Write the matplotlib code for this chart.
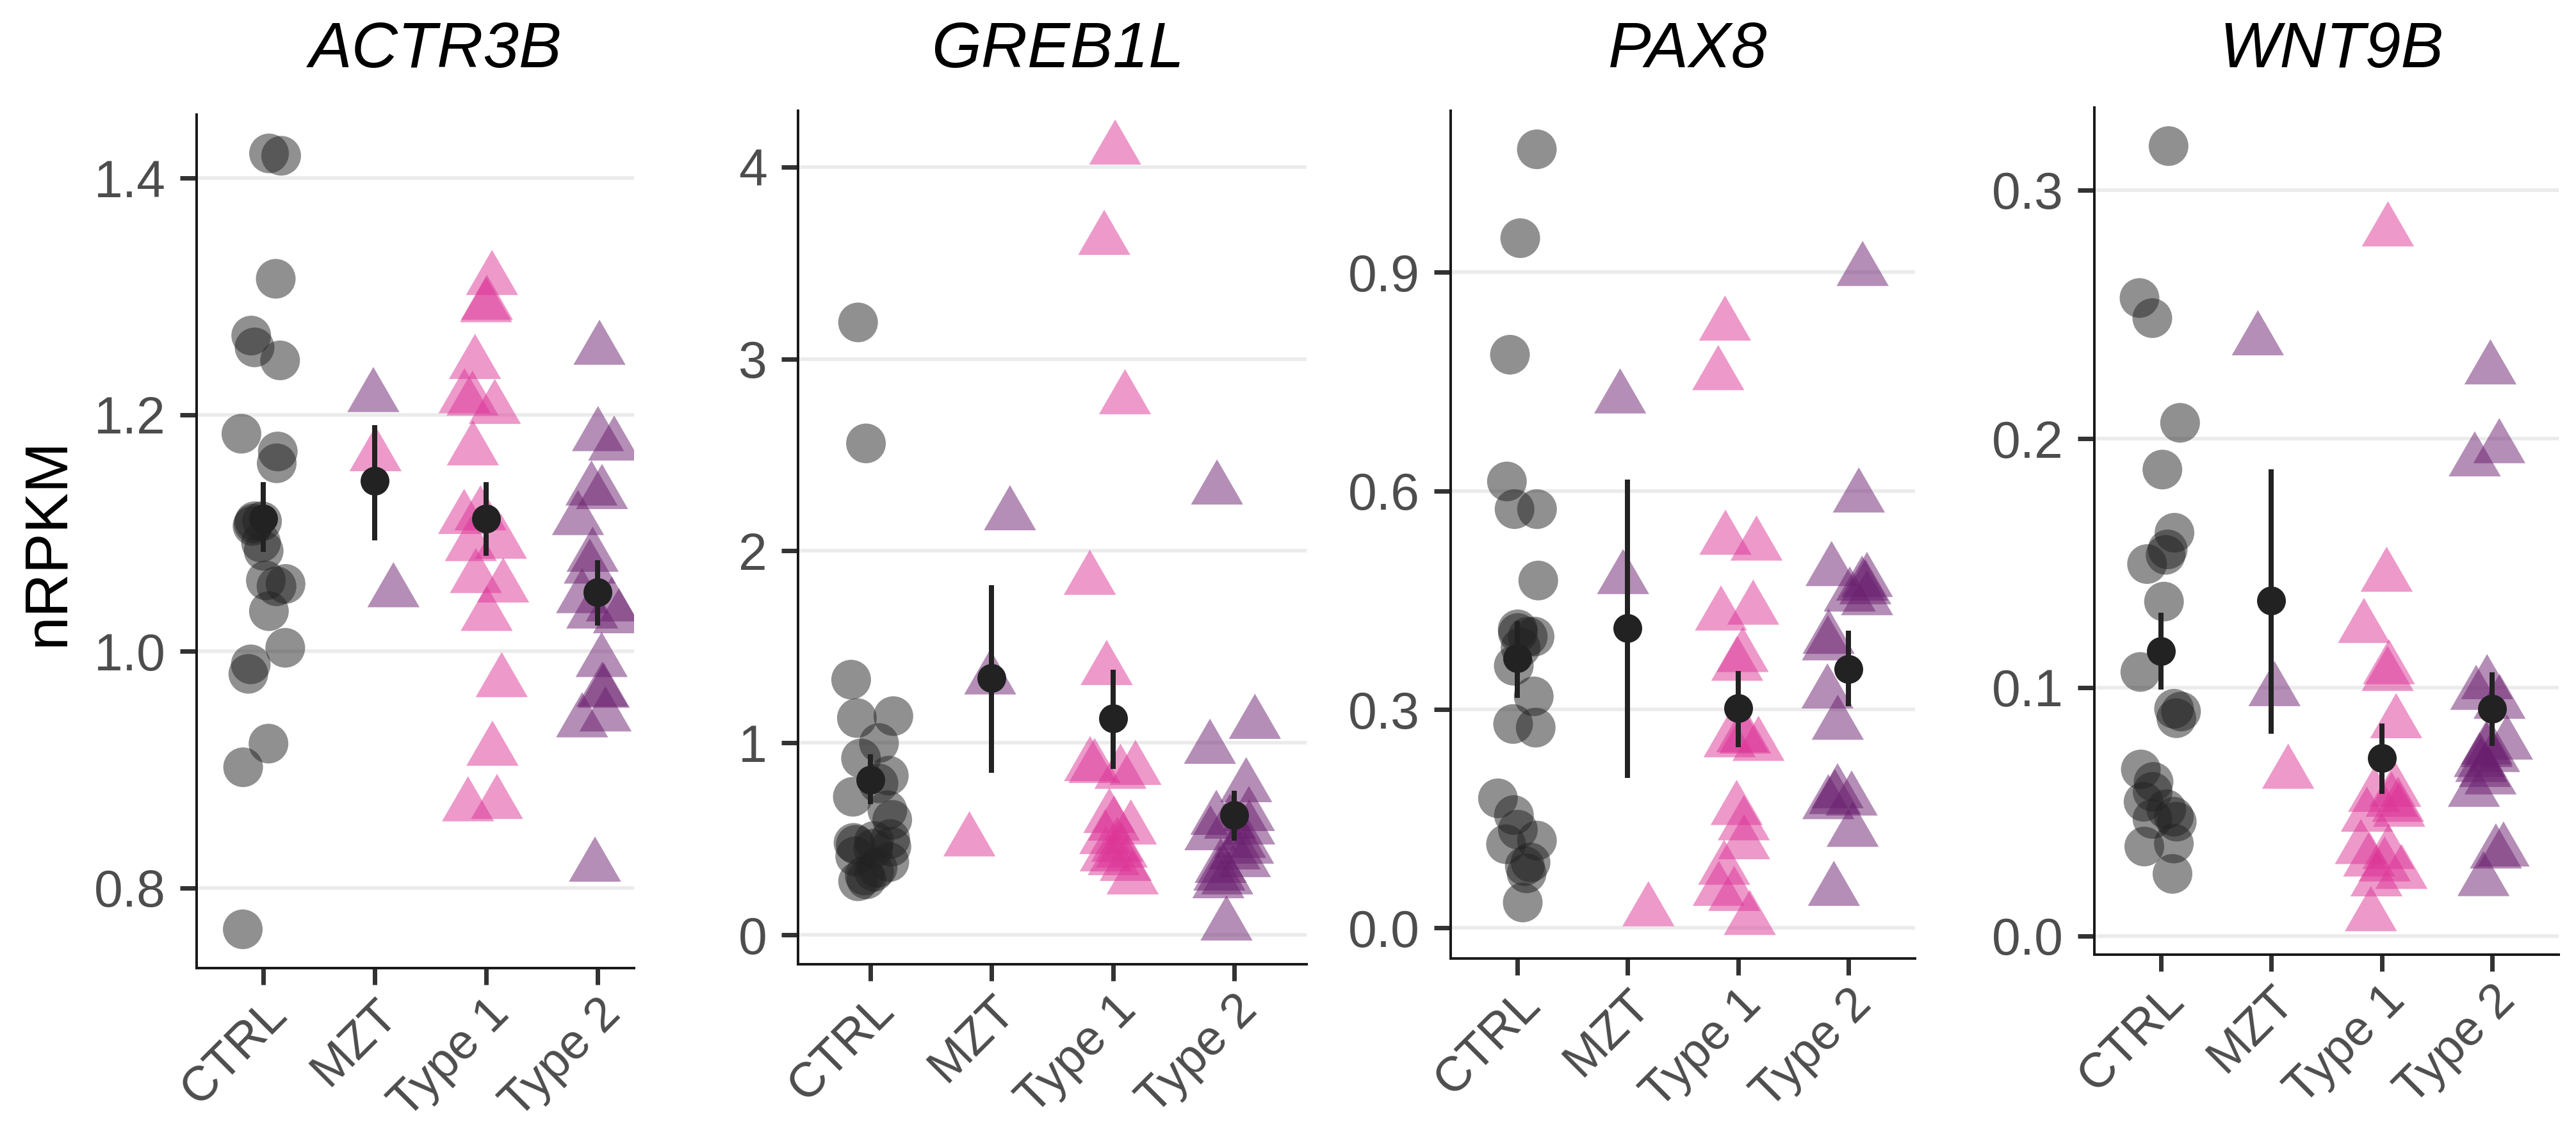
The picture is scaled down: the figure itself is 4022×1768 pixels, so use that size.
import numpy as np
import matplotlib
matplotlib.use("Agg")
import matplotlib.pyplot as plt
from matplotlib.path import Path

plt.rcParams['font.family'] = ['Liberation Sans', 'DejaVu Sans']

# ---------------- data ----------------
genes = ["ACTR3B", "GREB1L", "PAX8", "WNT9B"]
groups = ["CTRL", "MZT", "Type 1", "Type 2"]
mzt_subtype = ["Type 1", "Type 2", "Type 2"]

actr3b_ctrl = [1.421, 1.419, 1.315, 1.267, 1.257, 1.246, 1.184, 1.169, 1.159, 1.110, 1.110, 1.108, 1.106,
               1.092, 1.085, 1.060, 1.057, 1.055, 1.034, 1.003, 0.989, 0.981, 0.922, 0.902, 0.765]
actr3b_mzt = [1.165, 1.215, 1.050]
actr3b_type1 = [1.314, 1.293, 1.291, 1.243, 1.214, 1.212, 1.205, 1.170, 1.115, 1.112, 1.091, 1.089,
                1.062, 1.054, 1.030, 0.974, 0.916, 0.871, 0.869]
actr3b_type2 = [1.255, 1.182, 1.174, 1.136, 1.133, 1.111, 1.080, 1.070, 1.045, 1.038, 1.032, 1.028,
                0.991, 0.966, 0.965, 0.945, 0.940, 0.818]

greb1l_ctrl = [3.19, 2.56, 1.33, 1.14, 1.13, 1.00, 0.92, 0.83, 0.79, 0.72, 0.65, 0.60, 0.50, 0.49,
               0.48, 0.47, 0.46, 0.45, 0.41, 0.38, 0.35, 0.33, 0.31, 0.29, 0.28]
greb1l_mzt = [0.488, 2.186, 1.331]
greb1l_type1 = [4.09, 3.62, 2.79, 1.85, 1.38, 0.88, 0.87, 0.86, 0.84, 0.61, 0.57, 0.55, 0.50, 0.46,
                0.43, 0.41, 0.39, 0.36, 0.29]
greb1l_type2 = [2.32, 1.10, 0.97, 0.77, 0.62, 0.60, 0.58, 0.55, 0.52, 0.48, 0.45, 0.42, 0.38, 0.35,
                0.31, 0.29, 0.27, 0.05]

pax8_ctrl = [1.069, 0.947, 0.787, 0.613, 0.575, 0.575, 0.477, 0.410, 0.405, 0.400, 0.400, 0.385, 0.360,
             0.318, 0.280, 0.275, 0.178, 0.155, 0.135, 0.120, 0.115, 0.090, 0.085, 0.075, 0.035]
pax8_mzt = [0.023, 0.727, 0.479]
pax8_type1 = [0.827, 0.759, 0.533, 0.525, 0.437, 0.429, 0.372, 0.360, 0.262, 0.260, 0.255, 0.250,
              0.162, 0.141, 0.115, 0.080, 0.051, 0.044, 0.011]
pax8_type2 = [0.902, 0.591, 0.490, 0.475, 0.470, 0.465, 0.455, 0.450, 0.397, 0.388, 0.322, 0.279,
              0.185, 0.177, 0.175, 0.170, 0.132, 0.051]

wnt9b_ctrl = [0.3177, 0.2566, 0.2485, 0.2064, 0.1876, 0.1622, 0.1555, 0.1533, 0.1496, 0.1345, 0.1062,
              0.0914, 0.0903, 0.0876, 0.0670, 0.0620, 0.0580, 0.0540, 0.0510, 0.0480, 0.0471, 0.0460,
              0.0372, 0.0360, 0.0250]
wnt9b_mzt = [0.0653, 0.2396, 0.0985]
wnt9b_type1 = [0.2834, 0.1445, 0.1239, 0.1073, 0.1046, 0.0856, 0.058, 0.056, 0.054, 0.052, 0.050,
               0.048, 0.035, 0.033, 0.030, 0.028, 0.025, 0.022, 0.008]
wnt9b_type2 = [0.2279, 0.1962, 0.1909, 0.1013, 0.0970, 0.0934, 0.077, 0.075, 0.074, 0.072, 0.070,
               0.068, 0.066, 0.063, 0.058, 0.0340, 0.0332, 0.0221]

# mean and standard-error range per group (CTRL, MZT, Type 1, Type 2)
actr3b_mean = [1.112, 1.144, 1.112, 1.050]
actr3b_lo = [1.084, 1.094, 1.081, 1.022]
actr3b_hi = [1.143, 1.191, 1.143, 1.077]
greb1l_mean = [0.809, 1.337, 1.129, 0.624]
greb1l_lo = [0.680, 0.846, 0.866, 0.491]
greb1l_hi = [0.940, 1.820, 1.380, 0.751]
pax8_mean = [0.370, 0.412, 0.302, 0.355]
pax8_lo = [0.316, 0.206, 0.248, 0.304]
pax8_hi = [0.421, 0.616, 0.353, 0.408]
wnt9b_mean = [0.1146, 0.1350, 0.0715, 0.0914]
wnt9b_lo = [0.0991, 0.0814, 0.0571, 0.0765]
wnt9b_hi = [0.1300, 0.1876, 0.0854, 0.1062]

actr3b_ticks = [0.8, 1.0, 1.2, 1.4]
actr3b_ticklabels = ["0.8", "1.0", "1.2", "1.4"]
greb1l_ticks = [0, 1, 2, 3, 4]
greb1l_ticklabels = ["0", "1", "2", "3", "4"]
pax8_ticks = [0.0, 0.3, 0.6, 0.9]
pax8_ticklabels = ["0.0", "0.3", "0.6", "0.9"]
wnt9b_ticks = [0.0, 0.1, 0.2, 0.3]
wnt9b_ticklabels = ["0.0", "0.1", "0.2", "0.3"]

ylabel = "nRPKM"

# ---------------- style ----------------
colors = {"CTRL": "#222222", "Type 1": "#DD3497", "Type 2": "#6A1E6E"}
grey30 = "#4D4D4D"

DPI = 200
W, H = 4022, 1768
fig = plt.figure(figsize=(W / DPI, H / DPI), dpi=DPI)

def px2pt(p):
    return p * 72.0 / DPI

tri = Path([(0, 1), (-0.8660254, -0.5), (0.8660254, -0.5), (0, 1)],
           [Path.MOVETO, Path.LINETO, Path.LINETO, Path.CLOSEPOLY])
circ_s = px2pt(62) ** 2
tri_s = (2 * px2pt(47)) ** 2
mean_s = px2pt(45) ** 2

# panel boxes in pixels: left, right, top, bottom, right x-limit
boxes = [
    (307, 990, 179, 1512, 4.327),
    (1246, 2040, 173, 1506, 4.6),
    (2265, 2990, 173, 1497, 4.6),
    (3270, 3995, 168, 1491, 4.6),
]

panel_data = [
    (actr3b_ctrl, actr3b_mzt, actr3b_type1, actr3b_type2, actr3b_mean, actr3b_lo, actr3b_hi,
     actr3b_ticks, actr3b_ticklabels),
    (greb1l_ctrl, greb1l_mzt, greb1l_type1, greb1l_type2, greb1l_mean, greb1l_lo, greb1l_hi,
     greb1l_ticks, greb1l_ticklabels),
    (pax8_ctrl, pax8_mzt, pax8_type1, pax8_type2, pax8_mean, pax8_lo, pax8_hi,
     pax8_ticks, pax8_ticklabels),
    (wnt9b_ctrl, wnt9b_mzt, wnt9b_type1, wnt9b_type2, wnt9b_mean, wnt9b_lo, wnt9b_hi,
     wnt9b_ticks, wnt9b_ticklabels),
]

rng = np.random.default_rng(7)

for gi, (gene, box, pdata) in enumerate(zip(genes, boxes, panel_data)):
    l, r, t, b, xr = box
    ax = fig.add_axes([l / W, 1 - b / H, (r - l) / W, (b - t) / H])
    ctrl, mzt, t1, t2, mean, lo, hi, ticks, ticklabels = pdata

    allv = np.concatenate([ctrl, mzt, t1, t2, lo, hi])
    vmin, vmax = allv.min(), allv.max()
    span = vmax - vmin
    ax.set_ylim(vmin - 0.05 * span, vmax + 0.05 * span)
    ax.set_xlim(0.4, xr)

    for yv in ticks:
        ax.axhline(yv, color="#EBEBEB", lw=2.0, zorder=0)

    series = [
        (ctrl, ["CTRL"] * len(ctrl), 1, "o", circ_s),
        (mzt, mzt_subtype, 2, tri, tri_s),
        (t1, ["Type 1"] * len(t1), 3, tri, tri_s),
        (t2, ["Type 2"] * len(t2), 4, tri, tri_s),
    ]
    for vals, subt, xpos, mk, s in series:
        vals = np.asarray(vals)
        xs = xpos + rng.uniform(-0.2, 0.2, size=len(vals))
        cols = [colors[c] for c in subt]
        ax.scatter(xs, vals, s=s, marker=mk, c=cols, alpha=0.5, linewidths=0, zorder=2)

    xpos = np.arange(1, 5)
    ax.vlines(xpos, lo, hi, color="#222222", lw=px2pt(8), zorder=4)
    ax.scatter(xpos, mean, s=mean_s, color="#222222", linewidths=0, zorder=5)

    ax.set_xticks(xpos)
    ax.set_xticklabels(groups, rotation=45, ha="right", va="top", rotation_mode="anchor")
    ax.set_yticks(ticks)
    ax.set_yticklabels(ticklabels)
    ax.tick_params(axis="both", length=px2pt(26), width=px2pt(7), color="#333333",
                   labelcolor=grey30)
    ax.tick_params(axis="y", pad=px2pt(22), labelsize=29)
    ax.tick_params(axis="x", pad=px2pt(10), labelsize=27.5)
    for sp in ["top", "right"]:
        ax.spines[sp].set_visible(False)
    for sp in ["left", "bottom"]:
        ax.spines[sp].set_linewidth(px2pt(4))
        ax.spines[sp].set_color("#1a1a1a")
    ax.set_facecolor("white")

    # title centred over the full (unclipped) panel
    xc = (l + l + (4.6 - 0.4) * (r - l) / (xr - 0.4)) / 2.0 + 8
    fig.text(xc / W, 1 - 105 / H, gene, ha="center", va="baseline",
             fontsize=36, style="italic", color="black")

fig.text(75 / W, 1 - 846 / H, ylabel, rotation=90, ha="center", va="center",
         fontsize=34, color="black")

fig.savefig("out.png", dpi=DPI, facecolor="white")
